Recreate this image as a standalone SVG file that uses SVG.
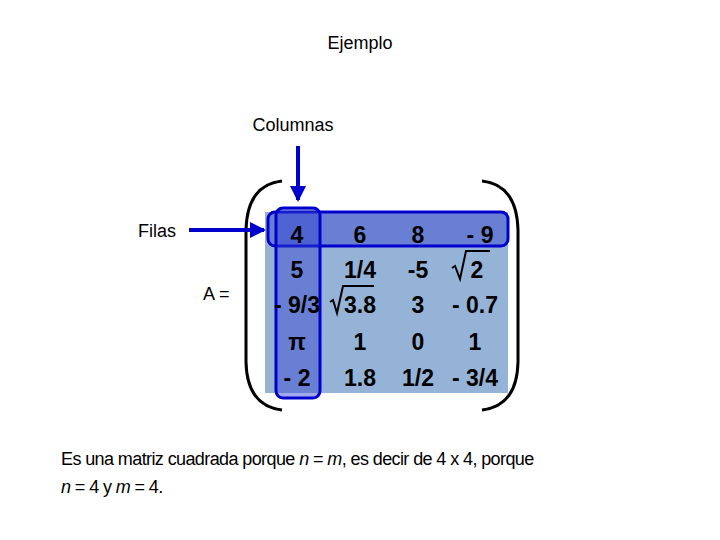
<svg xmlns="http://www.w3.org/2000/svg" width="720" height="540" viewBox="0 0 720 540">
<style>
text{font-family:"Liberation Sans",Arial,sans-serif}
.t{font-size:18px;fill:#000}
.m{font-size:23px;font-weight:bold;fill:#000;text-anchor:middle}
.b{fill:#3040D0;fill-opacity:0.45;stroke:#0000CC;stroke-width:3}
.p{fill:none;stroke:#000;stroke-width:3}
</style>
<defs><marker id="ah" markerWidth="16" markerHeight="16" refX="14" refY="8" orient="auto" markerUnits="userSpaceOnUse"><path d="M0,0 L16,8 L0,16 z" fill="#0000CC"/></marker></defs>
<rect width="720" height="540" fill="#fff"/>
<text x="360" y="49" class="t" text-anchor="middle">Ejemplo</text>
<g id="labels">
<text x="293" y="131" class="t" text-anchor="middle">Columnas</text>
<text x="138" y="237" class="t">Filas</text>
<text x="203" y="300" class="t">A =</text>
</g>
<g id="matrix">
<rect x="265" y="212" width="243" height="181" fill="#95B3D7"/>
<rect x="268" y="212" width="240" height="34" rx="7" class="b"/>
<rect x="276" y="208" width="44" height="190" rx="7" class="b"/>
<path class="p" d="M282,181 Q247,185 246,230 L246,362 Q247,406 282,410"/>
<path class="p" d="M482,181 Q517,185 518,230 L518,362 Q517,406 482,410"/>
<text x="297" y="243" class="m">4</text><text x="360" y="243" class="m">6</text><text x="418" y="243" class="m">8</text><text x="480" y="243" class="m">- 9</text>
<text x="297" y="278" class="m">5</text><text x="360" y="278" class="m">1/4</text><text x="418" y="278" class="m">-5</text><text x="477" y="278" class="m">2</text>
<text x="297" y="313" class="m">- 9/3</text><text x="360" y="313" class="m">3.8</text><text x="418" y="313" class="m">3</text><text x="475" y="313" class="m">- 0.7</text>
<text x="297" y="350" class="m">π</text><text x="360" y="350" class="m">1</text><text x="418" y="350" class="m">0</text><text x="475" y="350" class="m">1</text>
<text x="297" y="386" class="m">- 2</text><text x="360" y="386" class="m">1.8</text><text x="418" y="386" class="m">1/2</text><text x="475" y="386" class="m">- 3/4</text>
<path d="M452,268 L455,266 L460,279 L466,251 L490,251" fill="none" stroke="#000" stroke-width="2"/>
<path d="M330,302 L333,300 L337,313 L343,286 L374,286" fill="none" stroke="#000" stroke-width="2"/>
</g>
<g id="connectors">
<line x1="189" y1="230" x2="264" y2="230" stroke="#0000CC" stroke-width="4" marker-end="url(#ah)"/>
<line x1="298" y1="146" x2="298" y2="200" stroke="#0000CC" stroke-width="4" marker-end="url(#ah)"/>
</g>
<text x="61" y="465" class="t" style="letter-spacing:-0.6px">Es una matriz cuadrada porque <tspan font-style="italic">n</tspan> = <tspan font-style="italic">m</tspan>, es decir de 4 x 4, porque</text>
<text x="61" y="493" class="t" style="letter-spacing:-0.6px"><tspan font-style="italic">n</tspan> = 4 y <tspan font-style="italic">m</tspan> = 4.</text>
</svg>
